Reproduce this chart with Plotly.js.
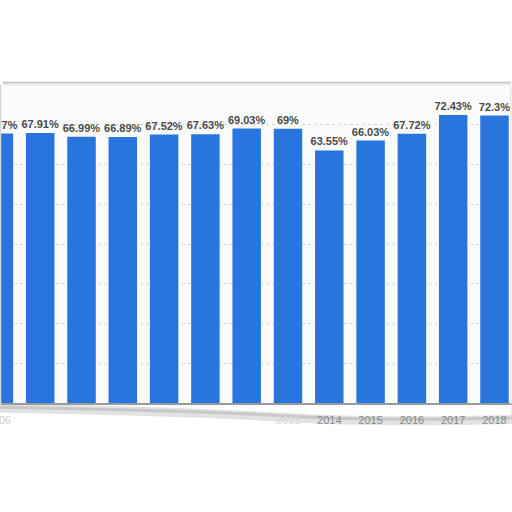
<!DOCTYPE html>
<html>
<head>
<meta charset="utf-8">
<script src="https://cdn.plot.ly/plotly-3.0.1.min.js"></script>
<style>
  html, body { margin: 0; padding: 0; background: #fff; overflow: hidden; width: 512px; height: 512px; position: relative; }
  #chart { width: 552px; height: 512px; position: absolute; left: -40px; top: 0; }
</style>
</head>
<body>
<div id="chart"></div>
<script>
// Data
const years = ['2006','2007','2008','2009','2010','2011','2012','2013','2014','2015','2016','2017','2018'];
const shares = [67.77, 67.91, 66.99, 66.89, 67.52, 67.63, 69.03, 69, 63.55, 66.03, 67.72, 72.43, 72.3];
const shownTicks = ['2006','2013','2014','2015','2016','2017','2018'];
const shownTickText = ['<span style="color:#cfcfcf">2006</span>','<span style="color:#d8d8d8">2013</span>','2014','2015','2016','2017','2018'];

const trace = {
  type: 'bar',
  x: years,
  y: shares,
  marker: { color: '#2876dd', line: { width: 0 } },
  text: shares.map(v => v + '%'),
  textposition: 'outside',
  constraintext: 'none',
  textfont: { family: 'Liberation Sans, Arial, sans-serif', size: 11, color: '#4a4a4a', weight: 'bold' },
  cliponaxis: false,
  hoverinfo: 'skip'
};

// the visible window starts 40px into the plot area
const L = 40 / 552;

const layout = {
  width: 552,
  height: 512,
  margin: { l: 0, r: 0, t: 85, b: 109, pad: 0 },
  paper_bgcolor: '#ffffff',
  plot_bgcolor: '#fbfbfb',
  bargap: 0.31,
  showlegend: false,
  xaxis: {
    type: 'category',
    range: [-0.942, 12.424],
    tickvals: shownTicks,
    ticktext: shownTickText,
    ticks: 'outside',
    ticklen: 6,
    tickcolor: 'rgba(0,0,0,0)',
    tickfont: { family: 'Liberation Sans, Arial, sans-serif', size: 11, color: '#8a8a8a' },
    showgrid: false,
    showline: true,
    linecolor: '#9a9a9a',
    linewidth: 1.5,
    zeroline: false,
    fixedrange: true
  },
  yaxis: {
    range: [0, 80],
    dtick: 10,
    showticklabels: false,
    showgrid: true,
    gridcolor: '#d8d8d8',
    griddash: 'dot',
    gridwidth: 1,
    zeroline: false,
    showline: false,
    fixedrange: true
  },
  shapes: [
    // top edge of the framed panel
    { type: 'line', xref: 'paper', yref: 'paper', x0: L + 0.004, x1: 0.998, y0: 1.007, y1: 1.007,
      line: { color: '#c4c4c4', width: 2 } },
    { type: 'line', xref: 'paper', yref: 'paper', x0: L + 0.004, x1: 0.998, y0: 1.0015, y1: 1.0015,
      line: { color: '#ececec', width: 2 } },
    // left and right edges of the panel
    { type: 'line', xref: 'paper', yref: 'paper', x0: L + 0.001, x1: L + 0.001, y0: -0.02, y1: 1.0,
      line: { color: '#d6d6d6', width: 1.5 } },
    { type: 'line', xref: 'paper', yref: 'paper', x0: 0.998, x1: 0.998, y0: -0.05, y1: 1.0,
      line: { color: '#dedede', width: 1 } },
    // blurry shadow at the bottom of the panel, behind the tick labels
    { type: 'path', xref: 'paper', yref: 'paper', layer: 'below',
      path: 'M ' + L + ',-0.016 C 0.3,-0.024 0.5,-0.035 0.58,-0.045 C 0.72,-0.06 0.86,-0.058 1,-0.052',
      line: { color: '#e2e2e2', width: 9 } },
    { type: 'path', xref: 'paper', yref: 'paper', layer: 'below',
      path: 'M ' + L + ',-0.013 C 0.3,-0.02 0.5,-0.03 0.58,-0.04 C 0.72,-0.055 0.86,-0.053 1,-0.047',
      line: { color: '#c8c8c8', width: 3 } }
  ]
};

Plotly.newPlot('chart', [trace], layout, { displayModeBar: false, staticPlot: true });
</script>
</body>
</html>
